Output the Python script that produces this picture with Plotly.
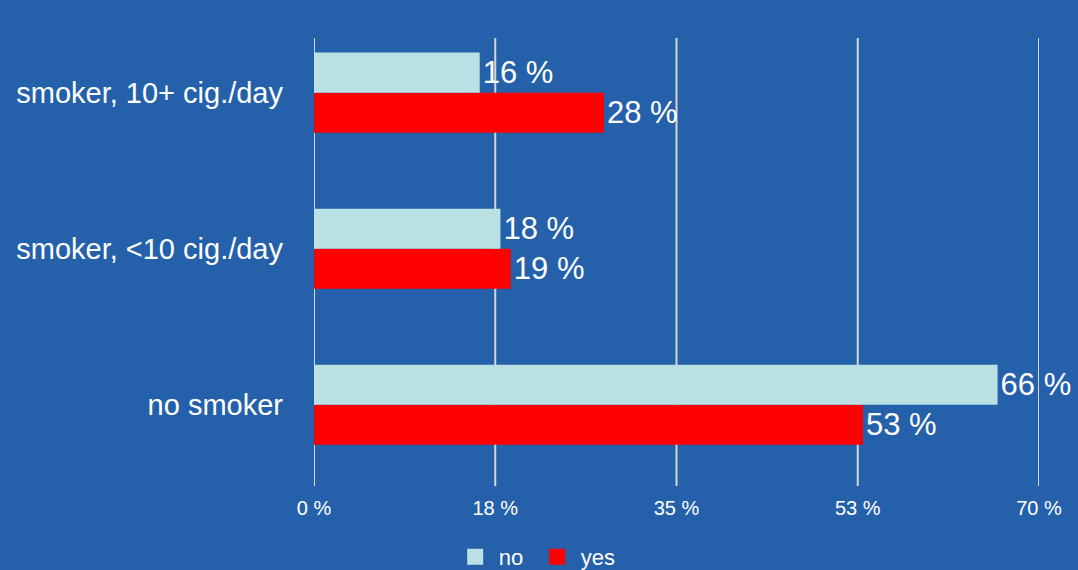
import plotly.graph_objects as go

categories = ["no smoker", "smoker, <10 cig./day", "smoker, 10+ cig./day"]
no_values = [66, 18, 16]
yes_values = [53, 19, 28]
tick_values = [0, 17.5, 35, 52.5, 70]
tick_labels = ["0 %", "18 %", "35 %", "53 %", "70 %"]

BG = "#2561aa"
GRID = "#d6d6d6"
NO_COLOR = "#b9e0e2"
YES_COLOR = "#ff0000"
FONT = "Helvetica, Arial, 'Liberation Sans', sans-serif"

fig = go.Figure()
fig.add_trace(go.Bar(
    y=categories, x=yes_values, orientation="h", name="yes",
    marker=dict(color=YES_COLOR, line=dict(width=0)),
    text=[f"{v} %" for v in yes_values], textposition="outside",
    textfont=dict(color="white", size=31, family=FONT), cliponaxis=False,
    showlegend=False, legendgroup="yes",
))
fig.add_trace(go.Bar(
    y=categories, x=no_values, orientation="h", name="no",
    marker=dict(color=NO_COLOR, line=dict(width=0)),
    text=[f"{v} %" for v in no_values], textposition="outside",
    textfont=dict(color="white", size=31, family=FONT), cliponaxis=False,
    showlegend=False, legendgroup="no",
))
# legend swatches (larger squares than the default bar symbol)
for name, color in [("no", NO_COLOR), ("yes", YES_COLOR)]:
    fig.add_trace(go.Scatter(
        x=[None], y=[None], mode="markers", name=name, legendgroup=name,
        marker=dict(symbol="square", size=16, color=color, line=dict(width=0)),
    ))

# vertical grid lines spanning the plot area
for v in tick_values:
    fig.add_shape(type="line", xref="x", yref="paper", x0=v, x1=v, y0=0, y1=1,
                  line=dict(color=GRID, width=2), layer="below")

fig.update_layout(
    width=1078, height=570,
    paper_bgcolor=BG, plot_bgcolor=BG,
    margin=dict(l=314, r=39, t=38, b=84, autoexpand=False),
    barmode="group", bargap=0.487, bargroupgap=0,
    font=dict(family=FONT, color="white"),
    showlegend=True,
    legend=dict(
        orientation="h", traceorder="normal",
        xref="container", yref="container",
        x=0.419, xanchor="left", y=0.023, yanchor="middle",
        itemwidth=37, entrywidth=30, entrywidthmode="pixels",
        font=dict(size=22, color="white", family=FONT),
        bgcolor="rgba(0,0,0,0)", itemclick=False,
    ),
    xaxis=dict(
        range=[0, 70], tickvals=tick_values, ticktext=tick_labels,
        showgrid=False, zeroline=False, showline=False,
        tickfont=dict(size=20, color="white", family=FONT),
        ticks="", ticklabelstandoff=8, automargin=False,
    ),
    yaxis=dict(
        type="category", categoryorder="array", categoryarray=categories,
        range=[-0.52, 2.35],
        showgrid=False, zeroline=False, showline=False, ticks="",
        tickfont=dict(size=29, color="white", family=FONT),
        ticklabelstandoff=30, automargin=False,
    ),
)

fig.write_html("out.html")
